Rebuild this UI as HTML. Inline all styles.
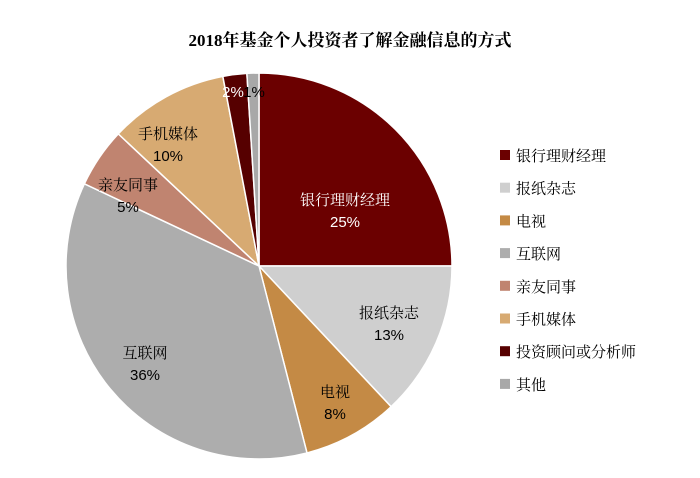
<!DOCTYPE html>
<html><head><meta charset="utf-8"><style>
body{margin:0;background:#fff;}
svg{display:block;}
text{font-family:"Liberation Sans","Noto Serif CJK SC",serif;}
text.title{font-family:"Liberation Serif","Noto Serif CJK SC",serif;}
</style></head><body>
<svg id="chart" width="700" height="478" viewBox="0 0 700 478">
<text class="title" x="350" y="46" text-anchor="middle" font-size="17" font-weight="bold" fill="#000">2018年基金个人投资者了解金融信息的方式</text>
<g id="slices"></g><g id="labels"></g><g id="legend"></g>
</svg>
<script>
const categories=["银行理财经理","报纸杂志","电视","互联网","亲友同事","手机媒体","投资顾问或分析师","其他"];
const values=[25,13,8,36,5,10,2,1];
const valueLabels=["25%","13%","8%","36%","5%","10%","2%","1%"];
const colors=["#6B0000","#CFCFCF","#C48A45","#ADADAD","#C08470","#D7AA72","#560000","#A8A8A8"];
const textColors=["#fff","#000","#000","#000","#000","#000","#fff","#000"];
const labelPos=[[345,200],[389,313],[335,392],[145,353],[128,185],[168,134],[233,92],[254,92]];
const cx=259,cy=266,r=193;
const NS="http://www.w3.org/2000/svg";
const total=values.reduce((a,b)=>a+b,0);
const gS=document.getElementById('slices'),gL=document.getElementById('labels'),gG=document.getElementById('legend');
function pt(a){return [cx+r*Math.sin(a),cy-r*Math.cos(a)];}
let acc=0;
values.forEach((v,i)=>{
  const a0=acc/total*2*Math.PI;acc+=v;const a1=acc/total*2*Math.PI;
  const p0=pt(a0),p1=pt(a1);const large=(a1-a0)>Math.PI?1:0;
  const p=document.createElementNS(NS,'path');
  p.setAttribute('d',`M${cx},${cy}L${p0[0]},${p0[1]}A${r},${r} 0 ${large} 1 ${p1[0]},${p1[1]}Z`);
  p.setAttribute('fill',colors[i]);p.setAttribute('stroke','#fff');p.setAttribute('stroke-width','1.5');
  
  
  gS.appendChild(p);
  const lp=labelPos[i];
  const t=document.createElementNS(NS,'text');
  t.setAttribute('text-anchor','middle');t.setAttribute('font-size','15');t.setAttribute('fill',textColors[i]);
  
  
  if(i<6){
    const t1=document.createElementNS(NS,'tspan');t1.setAttribute('x',lp[0]);t1.setAttribute('y',lp[1]+5);t1.textContent=categories[i];
    const t2=document.createElementNS(NS,'tspan');t2.setAttribute('x',lp[0]);t2.setAttribute('y',lp[1]+27);t2.textContent=valueLabels[i];
    t.appendChild(t1);t.appendChild(t2);
  }else{t.setAttribute('x',lp[0]);t.setAttribute('y',lp[1]+5);t.textContent=valueLabels[i];}
  gL.appendChild(t);
  const y=155+i*32.7;
  const g=document.createElementNS(NS,'g');
  
  
  const sq=document.createElementNS(NS,'rect');sq.setAttribute('x',500);sq.setAttribute('y',y-5);sq.setAttribute('width',10);sq.setAttribute('height',10);sq.setAttribute('fill',colors[i]);
  const lt=document.createElementNS(NS,'text');lt.setAttribute('x',516);lt.setAttribute('y',y+6);lt.setAttribute('font-size','15');lt.textContent=categories[i];
  g.appendChild(sq);g.appendChild(lt);gG.appendChild(g);
});
</script>
</body></html>
